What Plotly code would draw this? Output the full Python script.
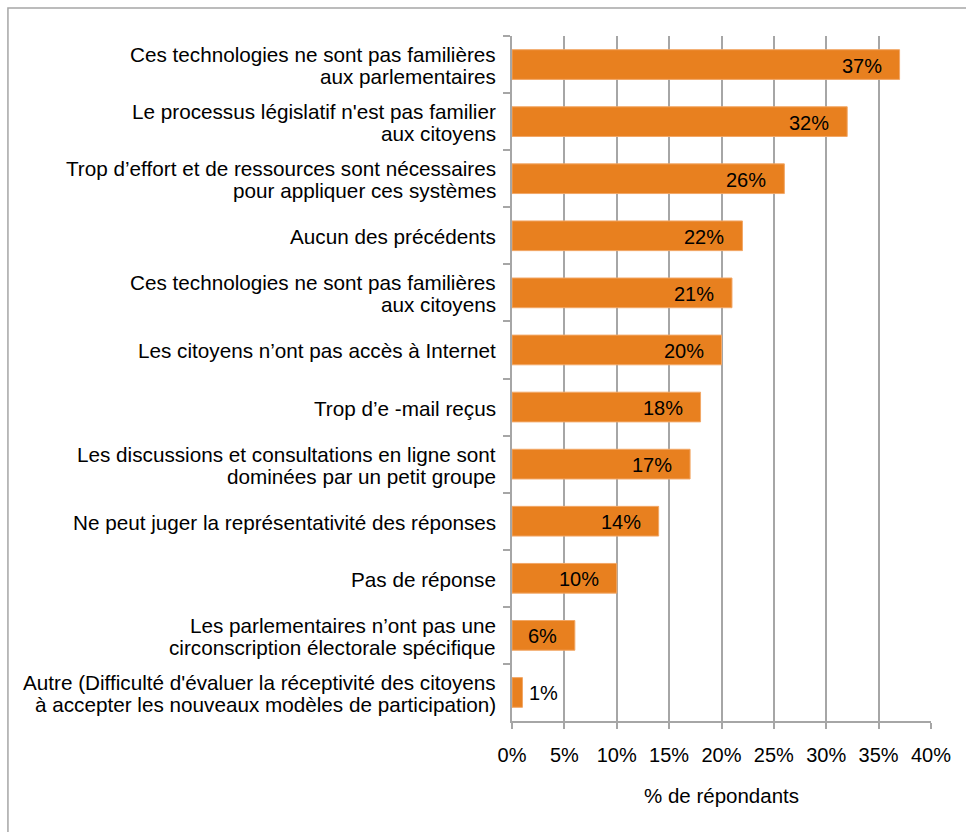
import plotly.graph_objects as go

# Survey responses, top to bottom
categories = [
    "Ces technologies ne sont pas familières<br>aux parlementaires",
    "Le processus législatif n'est pas familier<br>aux citoyens",
    "Trop d’effort et de ressources sont nécessaires<br>pour appliquer ces systèmes",
    "Aucun des précédents",
    "Ces technologies ne sont pas familières<br>aux citoyens",
    "Les citoyens n’ont pas accès à Internet",
    "Trop d’e -mail reçus",
    "Les discussions et consultations en ligne sont<br>dominées par un petit groupe",
    "Ne peut juger la représentativité des réponses",
    "Pas de réponse",
    "Les parlementaires n’ont pas une<br>circonscription électorale spécifique",
    "Autre (Difficulté d'évaluer la réceptivité des citoyens<br>à accepter les nouveaux modèles de participation)",
]
values = [37, 32, 26, 22, 21, 20, 18, 17, 14, 10, 6, 1]
x_ticks = [0, 5, 10, 15, 20, 25, 30, 35, 40]
x_tick_labels = [f"{t}%" for t in x_ticks]

FONT = "Liberation Sans, Arial, sans-serif"
BAR = "#E8801F"
GRID = "#A6A6A6"
LABEL_SIZE = 20.7
LINE_GAP = 22  # spacing between the two lines of a category label

fig = go.Figure(
    go.Bar(
        x=values,
        y=categories,
        orientation="h",
        marker=dict(color=BAR, line=dict(color="#F2A766", width=1)),
        width=0.52,
        hoverinfo="x",
    )
)

# Value labels: inside the bar end, or just outside for very short bars
for cat, v in zip(categories, values):
    inside = v >= 5
    fig.add_annotation(
        x=v, y=cat, xref="x", yref="y",
        text=f"{v}%", showarrow=False,
        xanchor="right" if inside else "left",
        xshift=-16 if inside else 5,
        yshift=-1,
        font=dict(family=FONT, size=20, color="#000000"),
    )

# Category labels, right-aligned line by line with tight line spacing
for cat in categories:
    lines = cat.split("<br>")
    n = len(lines)
    for i, line in enumerate(lines):
        offset = ((n - 1) / 2 - i) * LINE_GAP - 1
        fig.add_annotation(
            x=0, y=cat, xref="paper", yref="y",
            text=line, showarrow=False,
            xanchor="right", yanchor="middle",
            xshift=-14, yshift=offset,
            font=dict(family=FONT, size=LABEL_SIZE, color="#000000"),
        )

# Outer frame
fig.add_shape(
    type="rect", xref="paper", yref="paper",
    x0=-1.203, x1=2.5, y0=-2.0, y1=1.0409,
    line=dict(color="#A6A6A6", width=1.5), fillcolor="rgba(0,0,0,0)",
    layer="below",
)

fig.update_layout(
    width=966, height=832,
    margin=dict(l=512, r=35, t=36, b=111),
    paper_bgcolor="white", plot_bgcolor="white",
    font=dict(family=FONT, size=20, color="#000000"),
    showlegend=False,
    xaxis=dict(
        range=[0, 40],
        tickvals=x_ticks, ticktext=x_tick_labels,
        tickfont=dict(family=FONT, size=20),
        showgrid=True, gridcolor=GRID, gridwidth=1.5,
        showline=True, linecolor=GRID, linewidth=1.5,
        ticks="outside", ticklen=6, tickcolor=GRID, tickwidth=1.5,
        ticklabelstandoff=9,
        zeroline=False,
        title=dict(text="% de répondants", standoff=24,
                   font=dict(family=FONT, size=20.5)),
        fixedrange=True,
    ),
    yaxis=dict(
        type="category",
        categoryorder="array", categoryarray=categories,
        autorange="reversed",
        showgrid=False, showticklabels=False,
        showline=True, linecolor=GRID, linewidth=1.5,
        ticks="outside", tickson="boundaries", ticklen=7,
        tickcolor=GRID, tickwidth=1.5,
        fixedrange=True,
    ),
)

fig.write_html("out.html")
